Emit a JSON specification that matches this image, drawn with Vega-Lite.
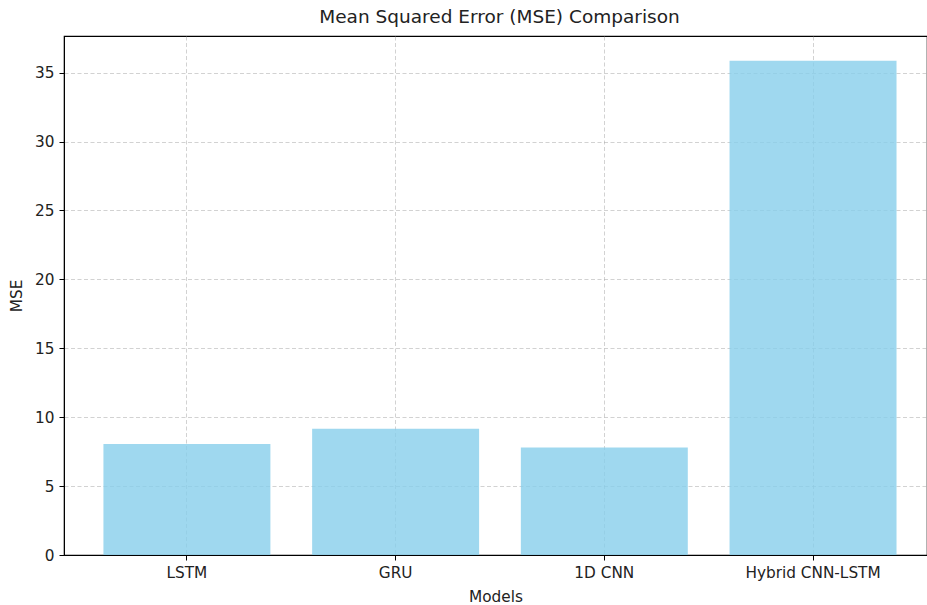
{
  "$schema": "https://vega.github.io/schema/vega-lite/v6.json",
  "autosize": "none",
  "padding": {"left": 64, "top": 36, "right": 0, "bottom": 50},
  "width": 863,
  "height": 519,
  "background": "white",
  "title": {
    "text": "Mean Squared Error (MSE) Comparison",
    "font": "DejaVu Sans",
    "fontSize": 18.5,
    "fontWeight": "normal",
    "color": "#222222",
    "anchor": "middle",
    "dx": 4,
    "offset": 10
  },
  "config": {
    "view": {"stroke": "#000000", "strokeWidth": 1.2},
    "axis": {
      "labelFont": "DejaVu Sans",
      "titleFont": "DejaVu Sans",
      "labelFontSize": 15.3,
      "titleFontSize": 15.3,
      "titleFontWeight": "normal",
      "labelColor": "#222222",
      "titleColor": "#222222",
      "domainColor": "#000000",
      "tickColor": "#000000",
      "tickSize": 5,
      "grid": true,
      "gridColor": "#a8a8a8",
      "gridOpacity": 0.65,
      "gridDash": [4, 2.5],
      "gridWidth": 0.8,
      "zindex": 1
    }
  },
  "data": {
    "values": [
      {"model": "LSTM", "mse": 8.06},
      {"model": "GRU", "mse": 9.17},
      {"model": "1D CNN", "mse": 7.8},
      {"model": "Hybrid CNN-LSTM", "mse": 35.86}
    ]
  },
  "mark": {"type": "bar", "color": "#87CEEB", "opacity": 0.8},
  "encoding": {
    "x": {
      "field": "model",
      "type": "nominal",
      "sort": null,
      "scale": {"paddingInner": 0.2, "paddingOuter": 0.1675, "align": 0.564},
      "axis": {
        "title": "Models",
        "labelAngle": 0,
        "labelPadding": 5,
        "titlePadding": 9,
        "bandPosition": 0.5
      }
    },
    "y": {
      "field": "mse",
      "type": "quantitative",
      "scale": {"domain": [0, 37.66], "nice": false, "zero": true},
      "axis": {
        "title": "MSE",
        "values": [0, 5, 10, 15, 20, 25, 30, 35],
        "labelPadding": 5,
        "titlePadding": 10
      }
    }
  }
}
